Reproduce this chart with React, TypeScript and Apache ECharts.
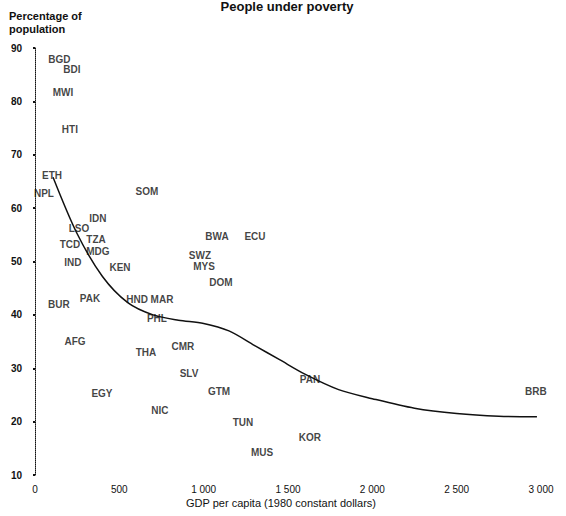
import React, { useEffect, useRef } from "react";
import * as echarts from "echarts";

// Country codes with GDP per capita (1980 constant dollars) and share of population in poverty (%)
const countryCodes = [
  "BGD", "BDI", "MWI", "HTI", "ETH", "NPL", "SOM", "IDN", "LSO", "TZA", "TCD", "MDG",
  "IND", "KEN", "BWA", "ECU", "SWZ", "MYS", "DOM", "PAK", "HND", "MAR", "BUR", "PHL",
  "AFG", "THA", "CMR", "SLV", "GTM", "EGY", "NIC", "PAN", "TUN", "KOR", "MUS", "BRB",
];
const gdpPerCapita = [
  145, 219, 166, 207, 101, 53, 664, 373, 261, 362, 207, 373,
  225, 504, 1079, 1304, 978, 1002, 1103, 326, 605, 753, 142, 723,
  237, 658, 877, 913, 1091, 397, 741, 1630, 1233, 1630, 1346, 2970,
];
const povertyPct = [
  87.8, 86.0, 81.6, 74.8, 66.2, 62.8, 63.2, 58.0, 56.1, 54.2, 53.1, 51.8,
  49.9, 48.8, 54.6, 54.6, 51.2, 49.0, 46.0, 43.0, 42.8, 42.8, 41.9, 39.4,
  35.1, 32.9, 34.0, 29.1, 25.6, 25.2, 22.0, 27.8, 19.8, 17.0, 14.3, 25.6,
];

// Fitted trend curve
const trendGdp = [107, 250, 400, 550, 700, 850, 1000, 1150, 1300, 1450, 1600, 1800, 2000, 2250, 2500, 2750, 2976];
const trendPct = [65.8, 55.2, 47.2, 42.3, 40.0, 39.0, 38.4, 37.0, 34.3, 31.6, 28.9, 26.0, 24.3, 22.5, 21.5, 21.0, 20.9];

const titleText = "People under poverty";
const yAxisTitle = "Percentage of\npopulation";
const xAxisTitle = "GDP per capita (1980 constant dollars)";

const FONT = "'Liberation Sans', Arial, sans-serif";
const INK = "#111";

function formatThousands(v: number): string {
  const s = String(Math.round(v));
  return s.length > 3 ? s.slice(0, s.length - 3) + " " + s.slice(-3) : s;
}

export default function App() {
  const ref = useRef<HTMLDivElement>(null);

  useEffect(() => {
    if (!ref.current) return;
    const chart = echarts.init(ref.current, undefined, { renderer: "svg" });

    const points = countryCodes.map((code, i) => ({
      name: code,
      value: [gdpPerCapita[i], povertyPct[i]],
    }));
    const trend = trendGdp.map((g, i) => [g, trendPct[i]]);

    chart.setOption({
      animation: false,
      backgroundColor: "#fff",
      grid: { left: 35, right: 25, top: 48, bottom: 41, containLabel: false },
      graphic: [
        {
          type: "text",
          x: 287,
          y: 0,
          style: {
            text: titleText,
            fill: INK,
            font: `bold 13px ${FONT}`,
            textAlign: "center",
            textVerticalAlign: "top",
          },
        },
        {
          type: "text",
          x: 9,
          y: 9,
          style: {
            text: yAxisTitle,
            fill: INK,
            font: `bold 11px ${FONT}`,
            lineHeight: 13,
            textAlign: "left",
            textVerticalAlign: "top",
          },
        },
        {
          type: "text",
          x: 281,
          y: 503,
          style: {
            text: xAxisTitle,
            fill: INK,
            font: `11px ${FONT}`,
            textAlign: "center",
            textVerticalAlign: "middle",
          },
        },
      ],
      xAxis: {
        type: "value",
        min: 0,
        max: 3000,
        interval: 500,
        axisLine: { show: false },
        axisTick: { show: false },
        splitLine: { show: false },
        axisLabel: {
          margin: 9,
          color: INK,
          fontFamily: FONT,
          fontSize: 10,
          formatter: (v: number) => formatThousands(v),
        },
      },
      yAxis: {
        type: "value",
        min: 10,
        max: 90,
        interval: 10,
        offset: 2,
        axisLine: { show: true, lineStyle: { color: INK, width: 1, type: "dotted" } },
        axisTick: { show: true, length: 2, lineStyle: { color: INK, width: 2 } },
        splitLine: { show: false },
        axisLabel: {
          margin: 11,
          color: INK,
          fontFamily: FONT,
          fontSize: 10,
          fontWeight: "bold",
        },
      },
      series: [
        {
          type: "line",
          data: trend,
          smooth: 0.3,
          showSymbol: false,
          symbol: "none",
          lineStyle: { color: INK, width: 1.5 },
          z: 2,
        },
        {
          type: "scatter",
          data: points,
          symbol: "circle",
          symbolSize: 1,
          itemStyle: { color: "rgba(0,0,0,0)" },
          label: {
            show: true,
            position: "inside",
            formatter: "{b}",
            color: INK,
            fontFamily: FONT,
            fontSize: 10,
            fontWeight: "bold",
          },
          z: 3,
        },
      ],
    });

    return () => chart.dispose();
  }, []);

  return (
    <div
      ref={ref}
      style={{ position: "fixed", left: 0, top: 0, width: 566, height: 516, background: "#fff" }}
    />
  );
}
